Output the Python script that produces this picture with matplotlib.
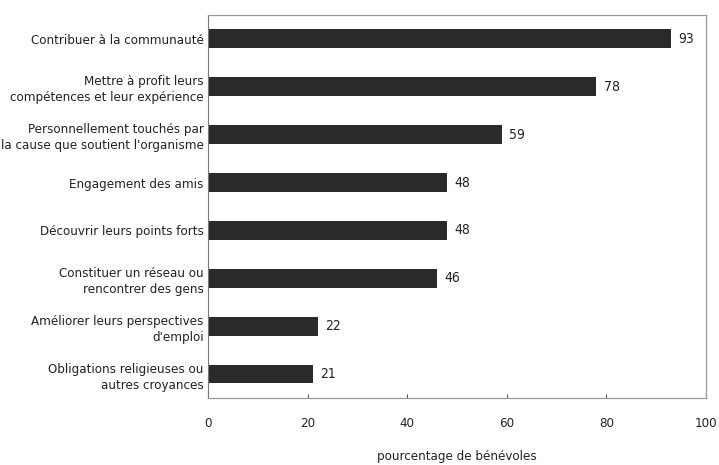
import numpy as np
import matplotlib.pyplot as plt

# raisons du bénévolat
labels = [
    "Contribuer à la communauté",
    "Mettre à profit leurs\ncompétences et leur expérience",
    "Personnellement touchés par\nla cause que soutient l'organisme",
    "Engagement des amis",
    "Découvrir leurs points forts",
    "Constituer un réseau ou\nrencontrer des gens",
    "Améliorer leurs perspectives\nd'emploi",
    "Obligations religieuses ou\nautres croyances",
]
values = [93, 78, 59, 48, 48, 46, 22, 21]
xticks = [0, 20, 40, 60, 80, 100]

plt.rcParams['font.family'] = ['DejaVu Sans']
plt.rcParams['font.stretch'] = 'condensed'
fs = 9.5
txt = '#222222'

fig = plt.figure(figsize=(7.19, 4.65), dpi=100)
ax = fig.add_axes([0.2893, 0.144, 0.6925, 0.824])

y = np.arange(len(labels))
ax.barh(y, values, height=0.39, color='#2a2a2a')
for yi, v in zip(y, values):
    ax.text(v + 1.5, yi, str(v), va='center', ha='left', fontsize=10, color=txt)

ax.set_ylim(len(labels) - 0.5, -0.5)
ax.set_xlim(0, 100)
ax.set_yticks(y)
ax.set_yticklabels(labels, fontsize=fs, color=txt, linespacing=1.3)
ax.set_xticks(xticks)
ax.set_xticklabels([str(t) for t in xticks], fontsize=9.5, color=txt)
ax.tick_params(axis='y', length=0, pad=3)
ax.tick_params(axis='x', direction='in', length=3, pad=14, color='#555555')

ax.spines['left'].set_color('#777777')
for s in ['top', 'right', 'bottom']:
    ax.spines[s].set_color('#999999')
    ax.spines[s].set_linestyle((0, (3, 1)))
    ax.spines[s].set_linewidth(0.9)

ax.set_xlabel('pourcentage de bénévoles', fontsize=fs, color=txt, labelpad=14)

fig.savefig('out.png', dpi=100)
